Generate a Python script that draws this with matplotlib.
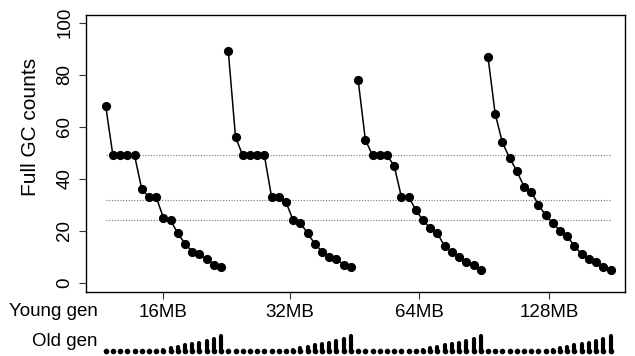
import numpy as np
import matplotlib.pyplot as plt

plt.rcParams['font.family'] = ['Liberation Sans', 'DejaVu Sans']

# full GC counts for each young gen size, one point per old gen size
young_gen = ['16MB', '32MB', '64MB', '128MB']
gc_16mb = [68, 49, 49, 49, 49, 36, 33, 33, 25, 24, 19, 15, 12, 11, 9, 7, 6]
gc_32mb = [89, 56, 49, 49, 49, 49, 33, 33, 31, 24, 23, 19, 15, 12, 10, 9, 7, 6]
gc_64mb = [78, 55, 49, 49, 49, 45, 33, 33, 28, 24, 21, 19, 14, 12, 10, 8, 7, 5]
gc_128mb = [87, 65, 54, 48, 43, 37, 35, 30, 26, 23, 20, 18, 14, 11, 9, 8, 6, 5]

# relative old gen size under each point
old_gen = [0, 0, 0, 0, 0, 0, 0, 0, 0.5, 1.5, 3, 4.5, 6, 7.5, 8.5, 10, 12, 15]
old_gen_16mb = old_gen[1:]

ref_lines = [49, 32, 24]

groups = [gc_16mb, gc_32mb, gc_64mb, gc_128mb]
olds = [old_gen_16mb, old_gen, old_gen, old_gen]

fig = plt.figure(figsize=(6.35, 3.56), dpi=100)
ax = fig.add_axes([0.135, 0.18, 0.849, 0.778])

xs = []
start = 0
for g in groups:
    x = np.arange(start, start + len(g))
    xs.append(x)
    start += len(g)

for x, g in zip(xs, groups):
    ax.plot(x, g, color='black', lw=1.1, marker='o', ms=5.6, zorder=3)

xmin, xmax = xs[0][0], xs[-1][-1]
for v in ref_lines:
    ax.plot([xmin, xmax], [v, v], color='#777777', lw=0.8, ls=(0, (1, 1.5)), zorder=1)

ax.set_xlim(-2.77, 71.98)
ax.set_ylim(-3.5, 103)
ax.set_yticks([0, 20, 40, 60, 80, 100])
ax.set_yticklabels(['0', '20', '40', '60', '80', '100'], rotation=90, va='center')
ax.set_xticks([x.mean() for x in xs])
ax.set_xticklabels(young_gen)
ax.tick_params(axis='both', labelsize=13.5, length=5, width=0.8, color='#333333')
ax.tick_params(axis='x', pad=4)
ax.tick_params(axis='y', pad=4)
ax.set_ylabel('Full GC counts', fontsize=15)
ax.yaxis.set_label_coords(-0.085, 0.595)
for s in ax.spines.values():
    s.set_linewidth(1.0)

fig.text(98 / 635, 1 - 311.5 / 356, 'Young gen', ha='right', va='center', fontsize=13.5)
fig.text(98 / 635, 1 - 342 / 356, 'Old gen', ha='right', va='center', fontsize=13.5)

# old gen size bars along the bottom
ax2 = fig.add_axes([0.135, 0.0, 0.849, 26 / 356])
ax2.set_xlim(ax.get_xlim())
ax2.set_ylim(-5, 21)
ax2.axis('off')
for x, h in zip(xs, olds):
    ax2.vlines(x, 0, h, color='black', lw=3.0, capstyle='round')
    ax2.plot(x, np.zeros(len(x)), 'o', color='black', ms=3.0)

fig.savefig('out.png', dpi=100)
